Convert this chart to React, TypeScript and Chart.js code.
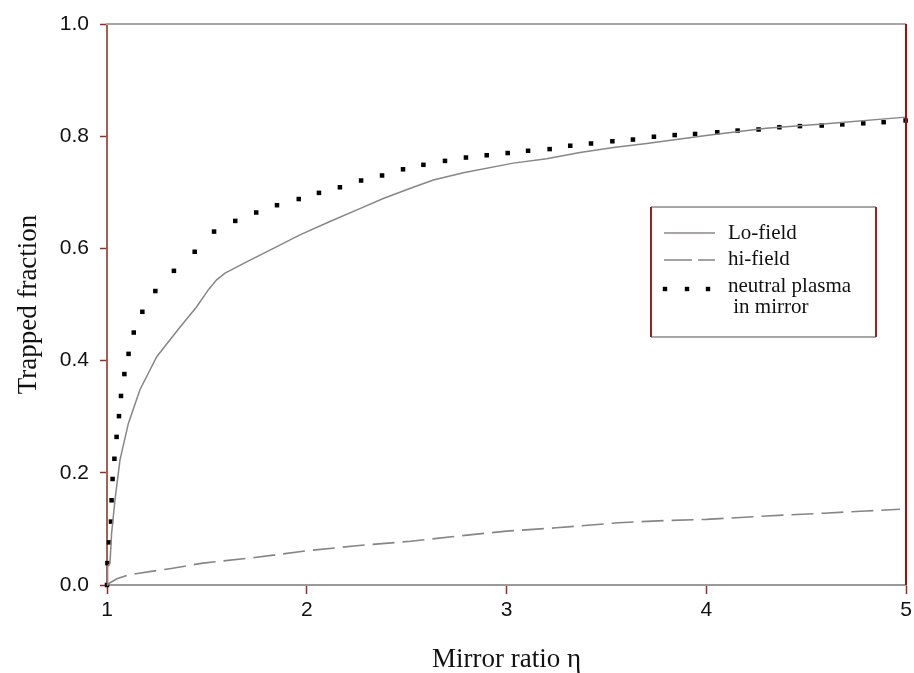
import React, { useEffect, useRef } from 'react';
import { Chart, registerables } from 'chart.js';

Chart.register(...registerables);

const SERIF = '"Liberation Serif", "Times New Roman", serif';
const SANS = '"Liberation Sans", Arial, sans-serif';

// Lo-field (solid)
const loFieldX = [1.0, 1.003, 1.015, 1.023, 1.04, 1.065, 1.107, 1.165, 1.249, 1.357, 1.449, 1.507, 1.549, 1.591, 1.699, 1.833, 1.966, 2.116, 2.266, 2.383, 2.533, 2.634, 2.784, 3.034, 3.201, 3.368, 3.535, 3.702, 3.869, 4.019, 4.3, 4.6, 5.0];
const loFieldY = [0.0, 0.033, 0.039, 0.092, 0.152, 0.223, 0.288, 0.348, 0.407, 0.456, 0.496, 0.526, 0.544, 0.556, 0.576, 0.6, 0.624, 0.648, 0.671, 0.689, 0.709, 0.722, 0.735, 0.752, 0.76, 0.771, 0.78, 0.787, 0.795, 0.802, 0.814, 0.822, 0.834];

// hi-field (dashed)
const hiFieldX = [1.0, 1.02, 1.05, 1.1, 1.16, 1.33, 1.48, 1.74, 2.0, 2.25, 2.52, 2.75, 3.0, 3.25, 3.56, 3.8, 4.0, 4.3, 4.59, 4.8, 4.97];
const hiFieldY = [0.0, 0.005, 0.011, 0.017, 0.021, 0.03, 0.039, 0.049, 0.061, 0.07, 0.078, 0.087, 0.096, 0.102, 0.111, 0.115, 0.117, 0.123, 0.128, 0.132, 0.135];

// neutral plasma in mirror (dotted)
const neutralX = [1.0, 1.002, 1.01, 1.02, 1.023, 1.028, 1.037, 1.048, 1.06, 1.07, 1.087, 1.108, 1.134, 1.177, 1.242, 1.335, 1.439, 1.536, 1.642, 1.747, 1.851, 1.96, 2.061, 2.166, 2.272, 2.377, 2.482, 2.584, 2.692, 2.797, 2.901, 3.006, 3.108, 3.216, 3.319, 3.423, 3.53, 3.633, 3.738, 3.842, 3.944, 4.055, 4.157, 4.262, 4.366, 4.469, 4.578, 4.681, 4.786, 4.888, 4.998];
const neutralY = [0.0, 0.039, 0.076, 0.113, 0.151, 0.189, 0.225, 0.264, 0.301, 0.337, 0.376, 0.412, 0.45, 0.487, 0.524, 0.56, 0.594, 0.63, 0.649, 0.664, 0.677, 0.688, 0.699, 0.709, 0.721, 0.73, 0.741, 0.749, 0.756, 0.762, 0.766, 0.77, 0.774, 0.777, 0.783, 0.787, 0.791, 0.794, 0.799, 0.802, 0.804, 0.807, 0.81, 0.812, 0.816, 0.818, 0.819, 0.821, 0.823, 0.825, 0.828];

const xTicks = [1, 2, 3, 4, 5];
const yTicks = [0, 0.2, 0.4, 0.6, 0.8, 1.0];

const seriesLabels = ['Lo-field', 'hi-field', 'neutral plasma\n in mirror'];

const toPoints = (xs: number[], ys: number[]) => xs.map((x, i) => ({ x, y: ys[i] }));

const framePlugin = {
  id: 'frame',
  afterDatasetsDraw(chart: any) {
    const { ctx, chartArea } = chart;
    const { left, right, top, bottom } = chartArea;
    ctx.save();
    ctx.lineWidth = 2;
    ctx.strokeStyle = '#a6a6a6';
    ctx.beginPath();
    ctx.moveTo(left - 1, top);
    ctx.lineTo(right, top);
    ctx.stroke();
    ctx.strokeStyle = '#a01010';
    ctx.beginPath();
    ctx.moveTo(right, top);
    ctx.lineTo(right, bottom);
    ctx.stroke();
    ctx.restore();
  },
};

const legendPlugin = {
  id: 'boxLegend',
  afterDraw(chart: any) {
    const { ctx } = chart;
    const ds = chart.data.datasets;
    const bx = 651, by = 207, bw = 225, bh = 130;
    ctx.save();
    ctx.fillStyle = '#ffffff';
    ctx.fillRect(bx, by, bw, bh);
    ctx.lineWidth = 2;
    ctx.strokeStyle = '#a6a6a6';
    ctx.beginPath();
    ctx.moveTo(bx, by); ctx.lineTo(bx + bw, by);
    ctx.moveTo(bx, by + bh); ctx.lineTo(bx + bw, by + bh);
    ctx.stroke();
    ctx.strokeStyle = '#a02020';
    ctx.beginPath();
    ctx.moveTo(bx, by); ctx.lineTo(bx, by + bh);
    ctx.moveTo(bx + bw, by); ctx.lineTo(bx + bw, by + bh);
    ctx.stroke();

    const sx0 = 664, sx1 = 715, tx = 728;
    ctx.strokeStyle = ds[0].borderColor;
    ctx.lineWidth = ds[0].borderWidth;
    ctx.setLineDash([]);
    ctx.beginPath(); ctx.moveTo(sx0, 233); ctx.lineTo(sx1, 233); ctx.stroke();
    ctx.strokeStyle = ds[1].borderColor;
    ctx.lineWidth = ds[1].borderWidth;
    ctx.setLineDash([28, 6]);
    ctx.beginPath(); ctx.moveTo(sx0, 260); ctx.lineTo(sx1, 260); ctx.stroke();
    ctx.setLineDash([]);
    ctx.fillStyle = '#000';
    [665, 687, 708].forEach((x) => ctx.fillRect(x - 2.2, 289 - 2.2, 4.4, 4.4));

    ctx.fillStyle = '#111';
    ctx.font = `21px ${SERIF}`;
    ctx.textBaseline = 'middle';
    ctx.textAlign = 'left';
    ctx.fillText(ds[0].label, tx, 233);
    ctx.fillText(ds[1].label, tx, 259);
    const parts = String(ds[2].label).split('\n');
    ctx.fillText(parts[0], tx, 286);
    ctx.fillText(parts[1], tx, 307);
    ctx.restore();
  },
};

export default function App() {
  const ref = useRef<HTMLCanvasElement | null>(null);

  useEffect(() => {
    if (!ref.current) return;
    const chart = new Chart(ref.current, {
      type: 'scatter',
      data: {
        datasets: [
          {
            label: seriesLabels[0],
            data: toPoints(loFieldX, loFieldY),
            showLine: true,
            borderColor: '#8a8585',
            borderWidth: 1.5,
            pointRadius: 0,
            fill: false,
            clip: false as any,
          },
          {
            label: seriesLabels[1],
            data: toPoints(hiFieldX, hiFieldY),
            showLine: true,
            borderColor: '#858585',
            borderWidth: 1.6,
            borderDash: [22, 8],
            pointRadius: 0,
            fill: false,
            clip: false as any,
          },
          {
            label: seriesLabels[2],
            data: toPoints(neutralX, neutralY),
            showLine: false,
            pointStyle: 'rect',
            pointRadius: 3.2,
            pointBackgroundColor: '#000',
            pointBorderColor: '#000',
            pointBorderWidth: 0,
            clip: false as any,
          },
        ],
      },
      options: {
        animation: false,
        responsive: false,
        events: [],
        layout: { padding: { top: 24, right: 8, left: 0, bottom: 0 } },
        plugins: {
          legend: { display: false },
          tooltip: { enabled: false },
          title: { display: false },
        },
        scales: {
          x: {
            type: 'linear',
            min: xTicks[0],
            max: xTicks[xTicks.length - 1],
            afterBuildTicks: (s: any) => { s.ticks = xTicks.map((v) => ({ value: v })); },
            ticks: {
              font: { family: SANS, size: 21 },
              color: '#111',
              padding: 4,
              maxRotation: 0,
              callback: (v: any) => String(v),
            },
            grid: {
              display: true,
              drawOnChartArea: false,
              drawTicks: true,
              tickLength: 9,
              tickColor: '#9a2a2a',
              tickWidth: 1.5,
            },
            border: { display: true, color: '#9a9a9a', width: 2 },
            title: {
              display: true,
              text: 'Mirror ratio η',
              color: '#111',
              font: { family: SERIF, size: 27, lineHeight: 1 },
              padding: { top: 0, bottom: 0 },
            },
            afterFit: (s: any) => { s.height = 88; s.paddingRight = 0; s.paddingLeft = 0; },
          },
          y: {
            type: 'linear',
            min: yTicks[0],
            max: yTicks[yTicks.length - 1],
            afterBuildTicks: (s: any) => { s.ticks = yTicks.map((v) => ({ value: v })); },
            ticks: {
              font: { family: SANS, size: 21 },
              color: '#111',
              padding: 11,
              callback: (v: any) => Number(v).toFixed(1),
            },
            grid: {
              display: true,
              drawOnChartArea: false,
              drawTicks: true,
              tickLength: 7,
              tickColor: '#9a2a2a',
              tickWidth: 1.5,
            },
            border: { display: true, color: '#a5604f', width: 2 },
            title: {
              display: true,
              text: 'Trapped fraction',
              color: '#111',
              font: { family: SERIF, size: 27, lineHeight: 1 },
              padding: { top: 15, bottom: 0 },
            },
            afterFit: (s: any) => { s.width = 107; s.paddingTop = 0; s.paddingBottom = 0; },
          },
        },
      } as any,
      plugins: [framePlugin, legendPlugin],
    });
    return () => chart.destroy();
  }, []);

  return (
    <div style={{ position: 'fixed', left: 0, top: 0, width: 914, height: 673, background: '#fff' }}>
      <canvas ref={ref} width={914} height={673} style={{ display: 'block' }} />
    </div>
  );
}
